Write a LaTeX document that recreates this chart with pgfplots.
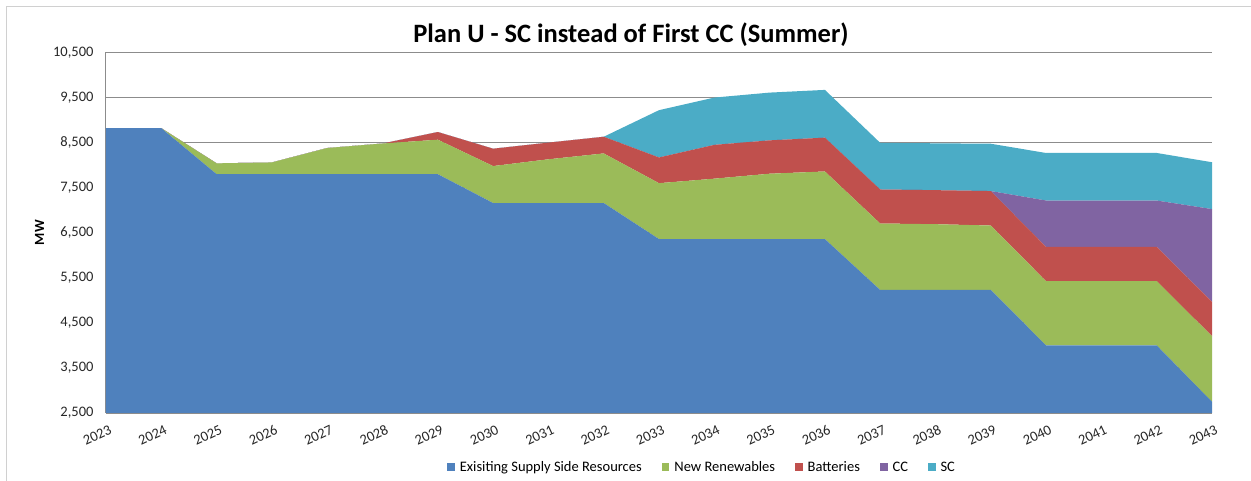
\documentclass[border=0pt]{standalone}
\usepackage{pgfplots}
\pgfplotsset{compat=1.18}
\usepackage{pgfplotstable}
\usepackage{fontspec}
\setmainfont{Carlito}
\definecolor{cblue}{HTML}{4F81BD}
\definecolor{cgreen}{HTML}{9BBB59}
\definecolor{cred}{HTML}{C0504D}
\definecolor{cpurple}{HTML}{8064A2}
\definecolor{caqua}{HTML}{4BACC6}
\definecolor{gridgray}{HTML}{8C8C8C}
\definecolor{framegray}{HTML}{D0D0D0}
\pgfplotstableread{
year exist renew batt cc sc
2023 8820 0 0 0 0
2024 8820 0 0 0 0
2025 7800 240 0 0 0
2026 7800 260 0 0 0
2027 7800 580 0 0 0
2028 7800 680 0 0 0
2029 7800 765 170 0 0
2030 7160 820 385 0 0
2031 7160 970 370 0 0
2032 7160 1100 370 0 0
2033 6360 1240 570 0 1050
2034 6360 1340 750 0 1050
2035 6360 1450 740 0 1060
2036 6360 1500 750 0 1060
2037 5230 1475 755 0 1035
2038 5230 1460 755 0 1040
2039 5230 1430 765 0 1050
2040 4000 1425 760 1030 1055
2041 4000 1425 760 1030 1055
2042 4000 1425 760 1030 1055
2043 2750 1455 760 2060 1040
}\datatable
\begin{document}
\begin{tikzpicture}[x=1pt,y=1pt]
\useasboundingbox (0,0) rectangle (1251,481);
\draw[framegray,line width=1pt] (6,-2) -- (6,474) -- (1253,474);
\node[font=\fontsize{26.5}{30}\selectfont\bfseries] at (631,446) {Plan U - SC instead of First CC (Summer)};
\begin{axis}[
  at={(106pt,68pt)}, anchor=south west,
  scale only axis, width=1106pt, height=360.5pt,
  xmin=2023, xmax=2043, ymin=2500, ymax=10500,
  stack plots=y,
  scaled y ticks=false,
  axis x line*=bottom, axis y line*=left,
  axis line style={gridgray,line width=1pt},
  xtick={2023,...,2043},
  xticklabels={2023,2024,2025,2026,2027,2028,2029,2030,2031,2032,2033,2034,2035,2036,2037,2038,2039,2040,2041,2042,2043},
  ytick={2500,3500,...,10500},
  yticklabels={{2,500},{3,500},{4,500},{5,500},{6,500},{7,500},{8,500},{9,500},{10,500}},
  major tick length=0pt,
  tick label style={font=\fontsize{14.5}{16}\selectfont, text=black!85},
  /pgf/number format/assume math mode=true,
  xticklabel style={rotate=25, anchor=north east, xshift=1pt, yshift=-8pt},
  yticklabel shift=9pt,
  ymajorgrids, grid style={gridgray,line width=1.2pt},
  ylabel={MW},
  ylabel style={font=\fontsize{14}{16}\selectfont\bfseries, at={(axis description cs:-0.06,0.5)}, anchor=center},
  legend style={draw=none, at={(axis description cs:0.539,-0.15)}, anchor=center, legend columns=5,
    font=\fontsize{14.5}{16}\selectfont,
    /tikz/every odd column/.append style={column sep=3pt},
    /tikz/every even column/.append style={column sep=18pt},
    inner sep=0pt, fill=none},
  legend cell align=left,
  legend image code/.code={\fill[#1,draw=none] (0pt,-3.8pt) rectangle (7.6pt,3.8pt);},
  every axis plot/.append style={draw=none, line width=0pt},
]
\addplot[fill=cblue, draw=none] table[x=year,y=exist]{\datatable} \closedcycle;
\addlegendentry{Exisiting Supply Side Resources}
\addplot[fill=cgreen, draw=none] table[x=year,y=renew]{\datatable} \closedcycle;
\addlegendentry{New Renewables}
\addplot[fill=cred, draw=none] table[x=year,y=batt]{\datatable} \closedcycle;
\addlegendentry{Batteries}
\addplot[fill=cpurple, draw=none] table[x=year,y=cc]{\datatable} \closedcycle;
\addlegendentry{CC}
\addplot[fill=caqua, draw=none] table[x=year,y=sc]{\datatable} \closedcycle;
\addlegendentry{SC}
\end{axis}
\end{tikzpicture}
\end{document}
